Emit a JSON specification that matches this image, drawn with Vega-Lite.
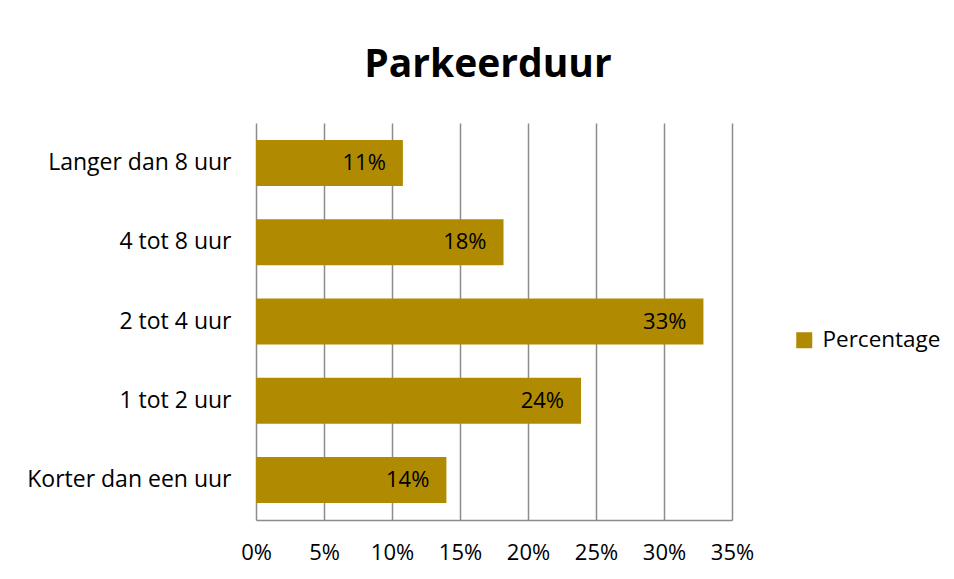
{
  "$schema": "https://vega.github.io/schema/vega-lite/v6.json",
  "width": 476,
  "height": 397,
  "autosize": {"type": "none"},
  "padding": {"left": 256, "top": 123, "right": 222, "bottom": 59},
  "background": "white",
  "title": {
    "text": "Parkeerduur",
    "font": "Open Sans",
    "fontSize": 39,
    "fontWeight": "bold",
    "color": "#000000",
    "anchor": "middle",
    "frame": "group",
    "baseline": "alphabetic",
    "offset": 7,
    "dx": -6
  },
  "data": {
    "values": [
      {"duur": "Langer dan 8 uur", "pct": 10.8, "label": "11%"},
      {"duur": "4 tot 8 uur", "pct": 18.2, "label": "18%"},
      {"duur": "2 tot 4 uur", "pct": 32.9, "label": "33%"},
      {"duur": "1 tot 2 uur", "pct": 23.9, "label": "24%"},
      {"duur": "Korter dan een uur", "pct": 14.0, "label": "14%"}
    ]
  },
  "encoding": {
    "y": {
      "field": "duur",
      "type": "nominal",
      "sort": null,
      "title": null,
      "scale": {"paddingInner": 0.42, "paddingOuter": 0.2145},
      "axis": {
        "domain": false,
        "ticks": false,
        "grid": false,
        "labelFont": "Open Sans",
        "labelFontSize": 23,
        "labelColor": "#000000",
        "labelPadding": 25,
        "labelLimit": 400
      }
    },
    "x": {
      "field": "pct",
      "type": "quantitative",
      "title": null,
      "scale": {"domain": [0, 35], "nice": false},
      "axis": {
        "values": [0, 5, 10, 15, 20, 25, 30, 35],
        "labelExpr": "datum.value + '%'",
        "grid": true,
        "gridColor": "#8c8c8c",
        "gridWidth": 1.5,
        "domain": true,
        "domainColor": "#8c8c8c",
        "domainWidth": 1.5,
        "ticks": false,
        "labelFont": "Open Sans",
        "labelFontSize": 22,
        "labelColor": "#000000",
        "labelPadding": 22,
        "labelFlush": false
      }
    }
  },
  "layer": [
    {
      "mark": {"type": "bar"},
      "encoding": {
        "color": {
          "datum": "Percentage",
          "type": "nominal",
          "scale": {"range": ["#B08A00"]},
          "legend": {
            "title": null,
            "orient": "none",
            "legendX": 537,
            "legendY": 206,
            "symbolType": "square",
            "symbolSize": 256,
            "symbolStrokeWidth": 0,
            "labelFont": "Open Sans",
            "labelFontSize": 22.5,
            "labelColor": "#000000",
            "labelOffset": 7
          }
        }
      }
    },
    {
      "mark": {
        "type": "text",
        "align": "right",
        "baseline": "middle",
        "dx": -17,
        "font": "Open Sans",
        "fontSize": 22,
        "color": "#000000"
      },
      "encoding": {"text": {"field": "label"}}
    }
  ],
  "config": {"view": {"stroke": null}}
}
